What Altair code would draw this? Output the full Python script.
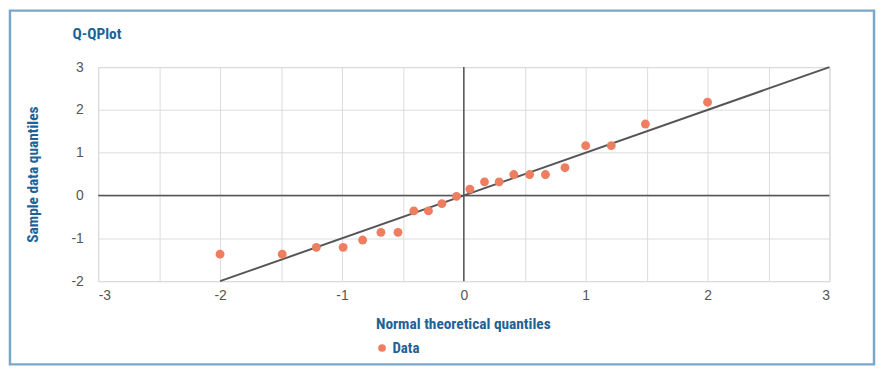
import altair as alt
import pandas as pd

# data
theoretical = [-2.0, -1.49, -1.21, -0.99, -0.83, -0.68, -0.54, -0.41, -0.29, -0.18, -0.06,
               0.05, 0.17, 0.29, 0.41, 0.54, 0.67, 0.83, 1.0, 1.21, 1.49, 2.0]
sample = [-1.37, -1.37, -1.21, -1.21, -1.04, -0.86, -0.86, -0.36, -0.36, -0.19, -0.02,
          0.15, 0.32, 0.32, 0.49, 0.49, 0.49, 0.65, 1.165, 1.165, 1.67, 2.18]
line_x = [-2, 3]
line_y = [-2, 3]
x_ticks = [-3, -2.5, -2, -1.5, -1, -0.5, 0, 0.5, 1, 1.5, 2, 2.5, 3]
y_ticks = [-2, -1.5, -1, -0.5, 0, 0.5, 1, 1.5, 2, 2.5, 3]
chart_title = ["Q-QPlot"]

pts = pd.DataFrame({"x": theoretical, "y": sample, "series": ["Data"] * len(sample)})
fit = pd.DataFrame({"x": line_x, "y": line_y})
zero = pd.DataFrame({"v": [0]})
ttl = pd.DataFrame({"t": chart_title})

TITLE_FONT = "Liberation Sans Narrow, Arial Narrow, Roboto Condensed, sans-serif"
BLUE = "#1d6397"
W, H = 738, 216
LBL = "datum.value % 1 == 0 ? toString(datum.value) : ''"

xs = alt.Scale(domain=[-3, 3], nice=False, zero=False)
ys = alt.Scale(domain=[-2, 3], nice=False, zero=False)

xaxis = alt.Axis(values=x_ticks, labelExpr=LBL,
                 title="Normal theoretical quantiles", titleY=36, titleX=W / 2 - 1,
                 ticks=False, domain=False, gridColor="#dcdcdc", labelPadding=8)
yaxis = alt.Axis(values=y_ticks, labelExpr=LBL,
                 title="Sample data quantiles", titleX=-58, titleY=H / 2,
                 ticks=False, domain=False, gridColor="#dcdcdc", labelPadding=15)

base_pts = alt.Chart(pts).mark_circle(size=80, opacity=1).encode(
    x=alt.X("x:Q", scale=xs, axis=xaxis),
    y=alt.Y("y:Q", scale=ys, axis=yaxis),
    color=alt.Color("series:N", scale=alt.Scale(domain=["Data"], range=["#ef7d60"]),
                    legend=alt.Legend(title=None, orient="none", legendX=279, legendY=276,
                                      symbolType="circle", symbolSize=60,
                                      labelFont=TITLE_FONT, labelFontSize=15,
                                      labelFontWeight="bold", labelColor=BLUE,
                                      labelOffset=3)),
)

vrule = alt.Chart(zero).mark_rule(color="#555555", strokeWidth=1.5).encode(x=alt.X("v:Q", scale=xs))
hrule = alt.Chart(zero).mark_rule(color="#555555", strokeWidth=1.5).encode(y=alt.Y("v:Q", scale=ys))
fitline = alt.Chart(fit).mark_line(color="#555555", strokeWidth=2).encode(
    x=alt.X("x:Q", scale=xs), y=alt.Y("y:Q", scale=ys))

title_mark = alt.Chart(ttl).mark_text(
    align="left", baseline="middle", font=TITLE_FONT, fontSize=15.5, fontWeight="bold",
    color=BLUE, clip=False).encode(x=alt.value(-26), y=alt.value(-33), text="t:N")

border = alt.Chart(zero).mark_rect(fill=None, stroke="#7aa7c7", strokeWidth=2.5, clip=False).encode(
    x=alt.value(-89), x2=alt.value(W + 45), y=alt.value(-57), y2=alt.value(H + 84))

chart = alt.layer(vrule, hrule, fitline, base_pts, title_mark, border).resolve_scale(
    x="shared", y="shared").properties(
    width=W, height=H,
    autosize=alt.AutoSizeParams(type="none"),
    padding={"left": 91, "top": 58, "right": 47, "bottom": 86},
).configure_view(stroke="#cfcfcf", strokeWidth=1).configure_axis(
    labelFont="Liberation Sans", labelFontSize=14, labelColor="#555555",
    titleFont=TITLE_FONT, titleFontSize=15.5, titleFontWeight="bold", titleColor=BLUE,
    grid=True,
)

chart.save("out.html", embed_options={"renderer": "svg", "actions": False})
